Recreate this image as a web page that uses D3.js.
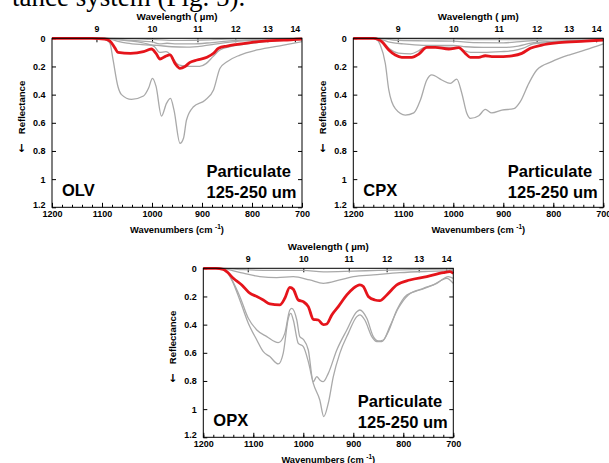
<!DOCTYPE html>
<html>
<head>
<meta charset="utf-8">
<script src="https://cdn.jsdelivr.net/npm/d3@7"></script>
<style>
body { margin: 0; background: #fff; }
svg text { font-family: Arial, "Liberation Sans", sans-serif; font-weight: bold; }
</style>
</head>
<body>
<div id="chart"></div>
<script>
// tick labels
const wavenumberTicks = [1200, 1100, 1000, 900, 800, 700];
const wavelengthTicks = [9, 10, 11, 12, 13, 14];
const reflectanceTicks = [0, 0.2, 0.4, 0.6, 0.8, 1, 1.2];
const minerals = ['OLV', 'CPX', 'OPX'];

// spectra as [wavenumber, reflectance drop]
const olvRed = [[1200,0],[1120,0],[1095,0.005],[1084,0.02],[1074,0.07],[1068,0.1],[1043,0.107],[1017,0.095],[1001,0.076],[992,0.107],[984,0.147],[974,0.13],[964,0.118],[954,0.178],[944,0.213],[934,0.2],[924,0.171],[910,0.154],[890,0.135],[877,0.106],[867,0.071],[850,0.055],[830,0.043],[803,0.03],[770,0.018],[737,0.013],[700,0.005]];
const olvGray = [
  [[1200,0],[1100,0],[1090,0.015],[1084,0.036],[1078,0.15],[1068,0.344],[1061,0.40],[1041,0.434],[1017,0.41],[1007,0.355],[999,0.284],[992,0.34],[981,0.552],[971,0.462],[963,0.427],[956,0.51],[944,0.746],[937,0.71],[931,0.58],[917,0.486],[894,0.44],[877,0.367],[864,0.213],[850,0.166],[824,0.119],[790,0.083],[737,0.048],[700,0.024]],
  [[1200,0],[1090,0],[1070,0.01],[1040,0.02],[1010,0.04],[995,0.06],[985,0.1],[972,0.095],[962,0.12],[950,0.18],[940,0.195],[925,0.2],[905,0.2],[892,0.18],[878,0.13],[865,0.085],[845,0.06],[810,0.04],[760,0.02],[700,0.01]],
  [[1200,0],[1090,0],[1070,0.02],[1050,0.035],[1020,0.045],[990,0.05],[960,0.06],[930,0.062],[900,0.055],[870,0.04],[840,0.025],[800,0.015],[700,0.005]],
  [[1200,0],[1090,0],[1060,0.01],[1020,0.02],[1000,0.025],[985,0.04],[970,0.035],[950,0.04],[920,0.04],[880,0.03],[850,0.02],[800,0.01],[700,0.003]],
  [[1200,0],[1080,0],[1000,0.008],[950,0.015],[900,0.012],[850,0.006],[700,0]]
];

const cpxRed = [[1200,0],[1160,0],[1150,0.008],[1143,0.024],[1129,0.083],[1116,0.119],[1103,0.135],[1083,0.135],[1069,0.112],[1053,0.064],[1036,0.064],[1009,0.076],[989,0.066],[976,0.107],[966,0.135],[949,0.135],[936,0.124],[923,0.13],[900,0.13],[883,0.125],[863,0.107],[846,0.071],[823,0.048],[789,0.031],[736,0.02],[700,0.012]];
const cpxGray = [
  [[1200,0],[1160,0],[1151,0.015],[1146,0.048],[1136,0.178],[1129,0.367],[1116,0.5],[1096,0.545],[1079,0.53],[1066,0.44],[1053,0.296],[1043,0.26],[1023,0.296],[1006,0.32],[993,0.29],[983,0.39],[973,0.533],[966,0.569],[949,0.55],[936,0.505],[923,0.53],[903,0.51],[879,0.5],[866,0.45],[849,0.32],[833,0.225],[803,0.166],[769,0.119],[736,0.083],[700,0.04]],
  [[1200,0],[1155,0],[1140,0.03],[1127,0.076],[1110,0.105],[1085,0.11],[1070,0.09],[1057,0.064],[1020,0.062],[993,0.064],[980,0.085],[965,0.1],[940,0.1],[905,0.095],[880,0.088],[860,0.07],[840,0.04],[810,0.03],[760,0.02],[700,0.01]],
  [[1200,0],[1155,0],[1130,0.025],[1100,0.04],[1060,0.05],[1000,0.05],[975,0.06],[940,0.065],[900,0.065],[870,0.055],[845,0.035],[800,0.022],[700,0.008]],
  [[1200,0],[1150,0],[1120,0.012],[1060,0.018],[1000,0.02],[960,0.03],[900,0.032],[860,0.022],[820,0.012],[700,0.004]],
  [[1200,0],[1100,0.003],[1000,0.006],[950,0.01],[880,0.01],[800,0.004],[700,0]]
];

const opxRed = [[1200,0],[1175,0],[1160,0.008],[1153,0.024],[1140,0.071],[1123,0.118],[1107,0.177],[1093,0.2],[1080,0.225],[1067,0.253],[1047,0.26],[1037,0.213],[1027,0.135],[1020,0.149],[1010,0.225],[1000,0.237],[990,0.272],[980,0.362],[970,0.367],[960,0.40],[953,0.395],[943,0.331],[930,0.272],[913,0.189],[900,0.142],[887,0.118],[880,0.13],[870,0.2],[857,0.225],[847,0.23],[833,0.189],[813,0.118],[787,0.083],[753,0.059],[720,0.031],[707,0.024],[700,0.036]];
const opxGray = [
  [[1200,0],[1170,0],[1153,0.024],[1143,0.083],[1127,0.225],[1110,0.39],[1093,0.509],[1080,0.592],[1067,0.627],[1050,0.679],[1040,0.6],[1030,0.355],[1025,0.32],[1020,0.367],[1010,0.533],[1000,0.556],[990,0.663],[980,0.817],[967,0.935],[959,1.053],[950,0.958],[940,0.769],[927,0.604],[910,0.462],[893,0.343],[887,0.331],[877,0.367],[863,0.485],[853,0.52],[843,0.52],[830,0.45],[813,0.296],[793,0.189],[767,0.154],[740,0.118],[713,0.071],[700,0.107]],
  [[1200,0],[1170,0],[1153,0.024],[1143,0.08],[1127,0.2],[1110,0.355],[1093,0.438],[1073,0.485],[1050,0.528],[1037,0.462],[1027,0.296],[1023,0.284],[1013,0.367],[1007,0.485],[1000,0.504],[990,0.58],[980,0.805],[973,0.769],[967,0.793],[960,0.805],[950,0.746],[933,0.58],[913,0.438],[893,0.308],[887,0.296],[873,0.355],[860,0.485],[850,0.516],[840,0.509],[827,0.414],[810,0.284],[790,0.189],[760,0.142],[733,0.107],[710,0.059],[700,0.071]],
  [[1200,0],[1165,0],[1153,0.007],[1120,0.035],[1087,0.059],[1053,0.066],[1020,0.059],[987,0.083],[960,0.107],[927,0.083],[900,0.059],[860,0.047],[807,0.031],[750,0.022],[700,0.017]],
  [[1200,0],[1160,0],[1120,0.01],[1060,0.015],[1000,0.015],[960,0.025],[900,0.02],[850,0.015],[760,0.008],[700,0.005]]
];

const plotWidth = 250;
const plotHeight = 169;
const panels = [
  {name: minerals[0], left: 52, top: 38.3, red: olvRed, gray: olvGray},
  {name: minerals[1], left: 353.3, top: 38.3, red: cpxRed, gray: cpxGray},
  {name: minerals[2], left: 203.3, top: 268.3, red: opxRed, gray: opxGray}
];

let svg = d3.select('#chart').append('svg')
    .attr('width', 609)
    .attr('height', 463);

// bit of the page caption that got cropped in
svg.append('text')
    .attr('x', 12)
    .attr('y', 6)
    .style('font-family', '"Liberation Serif", "Times New Roman", serif')
    .style('font-weight', 'normal')
    .attr('font-size', 27)
    .text('tance system (Fig. 5).');

panels.forEach(drawPanel);

function drawPanel(p) {
    const g = svg.append('g')
        .attr('transform', `translate(${p.left},${p.top})`);

    const xScale = d3.scaleLinear().domain([1200, 700]).range([0, plotWidth]);
    const yScale = d3.scaleLinear().domain([0, 1.2]).range([0, plotHeight]);

    // minor ticks on bottom
    g.append('g')
        .attr('transform', `translate(0,${plotHeight})`)
        .call(d3.axisBottom(xScale).tickValues(d3.range(1200, 699, -20)).tickSize(-2.5).tickFormat(''))
        .call(a => a.select('.domain').remove());

    g.append('g')
        .attr('transform', `translate(0,${plotHeight})`)
        .call(d3.axisBottom(xScale).tickValues(wavenumberTicks).tickFormat(d => String(d))
            .tickSizeInner(-4.5).tickSizeOuter(0).tickPadding(3))
        .attr('font-size', 9)
        .call(a => a.select('.domain').remove());

    // wavelength axis on top
    g.append('g')
        .call(d3.axisTop(xScale)
            .tickValues(wavelengthTicks.map(l => 10000 / l))
            .tickFormat(d => Math.round(10000 / d))
            .tickSizeInner(-4).tickSizeOuter(0).tickPadding(6))
        .attr('font-size', 8.8)
        .call(a => a.select('.domain').remove());

    g.append('g')
        .call(d3.axisLeft(yScale).tickValues(reflectanceTicks).tickFormat(d => String(d))
            .tickSizeInner(-4).tickSizeOuter(0).tickPadding(6.5))
        .attr('font-size', 9)
        .call(a => a.select('.domain').remove())
        .call(a => a.selectAll('text').filter(d => d === 1.2).attr('y', -2.5));

    g.append('g')
        .attr('transform', `translate(${plotWidth},0)`)
        .call(d3.axisRight(yScale).tickValues(reflectanceTicks).tickSizeInner(-4).tickSizeOuter(0).tickFormat(''))
        .call(a => a.select('.domain').remove());

    // spectra
    const line = d3.line()
        .x(d => xScale(d[0]))
        .y(d => yScale(d[1]))
        .curve(d3.curveMonotoneX);

    g.selectAll('.gray')
        .data(p.gray)
        .enter()
        .append('path')
            .attr('d', line)
            .attr('fill', 'none')
            .attr('stroke', '#a9a9a9')
            .attr('stroke-width', 1.3);

    g.append('path')
        .attr('d', line(p.red))
        .attr('fill', 'none')
        .attr('stroke', '#e5141b')
        .attr('stroke-width', 2.8)
        .attr('stroke-linejoin', 'round');

    g.append('rect')
        .attr('width', plotWidth)
        .attr('height', plotHeight)
        .attr('fill', 'none')
        .attr('stroke', '#000')
        .attr('stroke-width', 1);

    // titles
    g.append('text')
        .attr('x', plotWidth / 2)
        .attr('y', -18.2)
        .attr('text-anchor', 'middle')
        .attr('font-size', 9.8)
        .text('Wavelength ( µm)');

    const xt = g.append('text')
        .attr('x', plotWidth / 2)
        .attr('y', plotHeight + 25.4)
        .attr('text-anchor', 'middle')
        .attr('font-size', 9.3)
        .text('Wavenumbers (cm ');
    xt.append('tspan').attr('dy', -4).attr('font-size', 6.5).text('-1');
    xt.append('tspan').attr('dy', 4).text(')');

    g.append('text')
        .attr('transform', `translate(-27.2,69.2) rotate(-90)`)
        .attr('text-anchor', 'middle')
        .attr('font-size', 9.5)
        .text('Reflectance');

    g.append('text')
        .attr('x', -30.5)
        .attr('y', 110.5)
        .attr('text-anchor', 'middle')
        .attr('dominant-baseline', 'central')
        .style('font-family', '"DejaVu Sans", sans-serif')
        .attr('font-size', 11)
        .text('\u2193');

    // labels inside
    g.append('text')
        .attr('x', 10)
        .attr('y', plotHeight - 11)
        .attr('font-size', 16.5)
        .text(p.name);

    g.append('text')
        .attr('x', 154.5)
        .attr('y', plotHeight - 30)
        .attr('font-size', 16.5)
        .text('Particulate');

    g.append('text')
        .attr('x', 154.5)
        .attr('y', plotHeight - 9.7)
        .attr('font-size', 16.5)
        .text('125-250 um');
}
</script>
</body>
</html>
